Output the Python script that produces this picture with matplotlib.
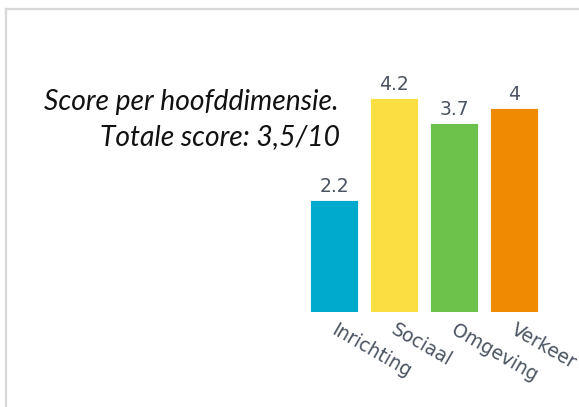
import matplotlib
matplotlib.use("Agg")
import matplotlib.pyplot as plt
from matplotlib.lines import Line2D

categories = ["Inrichting", "Sociaal", "Omgeving", "Verkeer"]
scores = [2.2, 4.2, 3.7, 4]
value_labels = ["2.2", "4.2", "3.7", "4"]
colors = ["#00aacd", "#fbdf42", "#6cc24a", "#f08a00"]
title_lines = ["Score per hoofddimensie.", "Totale score: 3,5/10"]

W, H = 579, 407
fig = plt.figure(figsize=(W / 100, H / 100), dpi=100)

# plot area in pixels: x -0.5..3.5 -> 304..544, y 0 at 312, 51 px per unit
ax = fig.add_axes([304 / W, (H - 312) / H, 240 / W, 229.5 / H])
ax.set_xlim(-0.5, 3.5)
ax.set_ylim(0, 4.5)
ax.axis("off")

x = range(len(categories))
ax.bar(x, scores, width=0.8, color=colors, edgecolor="#ffffff", linewidth=0.6)

txt_col = "#4b5462"
for i, (v, lab) in enumerate(zip(scores, value_labels)):
    ax.annotate(lab, (i, v), xytext=(0, 3), textcoords="offset points",
                ha="center", va="bottom", fontsize=13.5, color=txt_col)

for i, c in enumerate(categories):
    ax.annotate(c, (i, 0), xytext=(-1, -12), textcoords="offset points",
                ha="left", va="center", rotation=-30, rotation_mode="anchor",
                fontsize=13.5, color=txt_col)

fig.text(339 / W, 1 - 110 / H, title_lines[0], ha="right", va="baseline",
         fontsize=20.3, style="italic", family="Lato", color="#111111")
fig.text(340 / W, 1 - 145 / H, title_lines[1], ha="right", va="baseline",
         fontsize=20.3, style="italic", family="Lato", color="#111111")

# light frame around the card
fig.add_artist(Line2D([5.5 / W, 5.5 / W], [0, 1 - 8.5 / H], transform=fig.transFigure,
                      color="#d8d8d8", linewidth=1.6))
fig.add_artist(Line2D([5.5 / W, 1], [1 - 8.5 / H, 1 - 8.5 / H], transform=fig.transFigure,
                      color="#d8d8d8", linewidth=1.6))

fig.savefig("out.png", dpi=100)
